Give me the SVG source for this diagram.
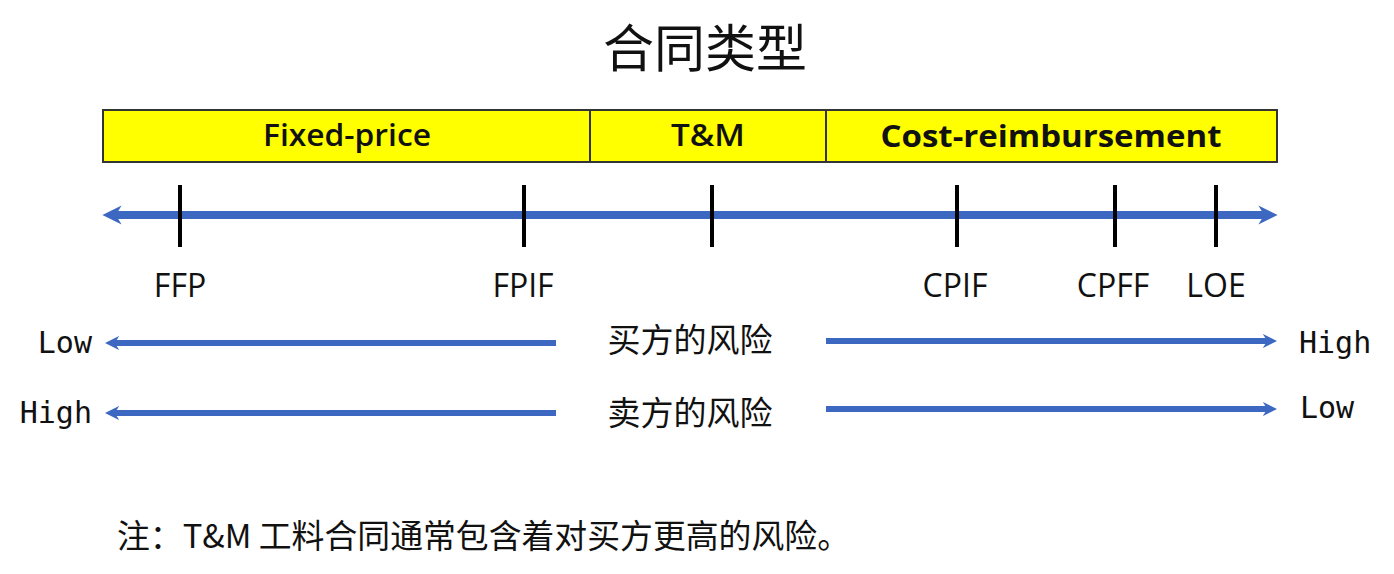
<svg xmlns="http://www.w3.org/2000/svg" width="1394" height="574" viewBox="0 0 1394 574">
<style>
.cjk{font-family:"Noto Sans CJK SC","Noto Sans",sans-serif;fill:#111}
.lat{font-family:"Open Sans","Noto Sans",sans-serif;fill:#111}
.mono{font-family:"DejaVu Sans Mono","Liberation Mono",monospace;fill:#111;font-size:30px}
.seg{fill:#ffff00;stroke:#333;stroke-width:2}
.tick{stroke:#000;stroke-width:4}
.ax{stroke:#3d68c2;fill:none}
</style>
<defs>
<marker id="ah" viewBox="0 0 10 10" refX="5" refY="5" markerWidth="2.4" markerHeight="3" orient="auto-start-reverse" markerUnits="strokeWidth">
<path d="M0,0 L10,5 L0,10 L3,5 Z" fill="#3d68c2"/>
</marker>
<marker id="ah2" viewBox="0 0 10 10" refX="5" refY="5" markerWidth="2.4" markerHeight="2.8" orient="auto-start-reverse" markerUnits="strokeWidth">
<path d="M0,0 L10,5 L0,10 L3,5 Z" fill="#3d68c2"/>
</marker>
</defs>
<rect width="1394" height="574" fill="#fff"/>
<text class="cjk" x="705" y="67" font-size="51" text-anchor="middle">合同类型</text>
<g id="bar">
<g id="fixed-price"><rect class="seg" x="103" y="110" width="487" height="52"/><text class="lat" x="347" y="146" font-size="30" font-weight="600" text-anchor="middle" textLength="168" lengthAdjust="spacingAndGlyphs">Fixed-price</text></g>
<g id="tm"><rect class="seg" x="590" y="110" width="236" height="52"/><text class="lat" x="708" y="146" font-size="31" font-weight="600" text-anchor="middle" textLength="74" lengthAdjust="spacingAndGlyphs">T&amp;M</text></g>
<g id="cost"><rect class="seg" x="826" y="110" width="451" height="52"/><text class="lat" x="1051" y="147" font-size="31" font-weight="bold" text-anchor="middle" textLength="341" lengthAdjust="spacingAndGlyphs">Cost-reimbursement</text></g>
</g>
<g id="connectors">
<line class="ax" x1="112" y1="215" x2="1268" y2="215" stroke-width="8" marker-start="url(#ah)" marker-end="url(#ah)"/>
<line class="ax" x1="556" y1="343" x2="112" y2="343" stroke-width="6" marker-end="url(#ah2)"/>
<line class="ax" x1="826" y1="341" x2="1270" y2="341" stroke-width="6" marker-end="url(#ah2)"/>
<line class="ax" x1="556" y1="413" x2="112" y2="413" stroke-width="6" marker-end="url(#ah2)"/>
<line class="ax" x1="826" y1="409" x2="1270" y2="409" stroke-width="6" marker-end="url(#ah2)"/>
</g>
<g id="ticks">
<line class="tick" x1="180" y1="185" x2="180" y2="247"/>
<line class="tick" x1="524" y1="185" x2="524" y2="247"/>
<line class="tick" x1="712" y1="185" x2="712" y2="247"/>
<line class="tick" x1="957" y1="185" x2="957" y2="247"/>
<line class="tick" x1="1115" y1="185" x2="1115" y2="247"/>
<line class="tick" x1="1216" y1="185" x2="1216" y2="247"/>
</g>
<g id="labels" font-size="32" text-anchor="middle">
<text class="lat" x="180" y="297">FFP</text>
<text class="lat" x="523" y="297">FPIF</text>
<text class="lat" x="955" y="297">CPIF</text>
<text class="lat" x="1113" y="297">CPFF</text>
<text class="lat" x="1216" y="297">LOE</text>
</g>
<g id="buyer">
<text class="mono" x="92" y="353" text-anchor="end">Low</text>
<text class="cjk" x="690" y="352" font-size="33" text-anchor="middle">买方的风险</text>
<text class="mono" x="1299" y="353">High</text>
</g>
<g id="seller">
<text class="mono" x="92" y="423" text-anchor="end">High</text>
<text class="cjk" x="690" y="425" font-size="33" text-anchor="middle">卖方的风险</text>
<text class="mono" x="1300" y="418">Low</text>
</g>
<text class="cjk" x="117" y="548" font-size="33" textLength="733" lengthAdjust="spacingAndGlyphs">注：T&amp;M 工料合同通常包含着对买方更高的风险。</text>
</svg>
